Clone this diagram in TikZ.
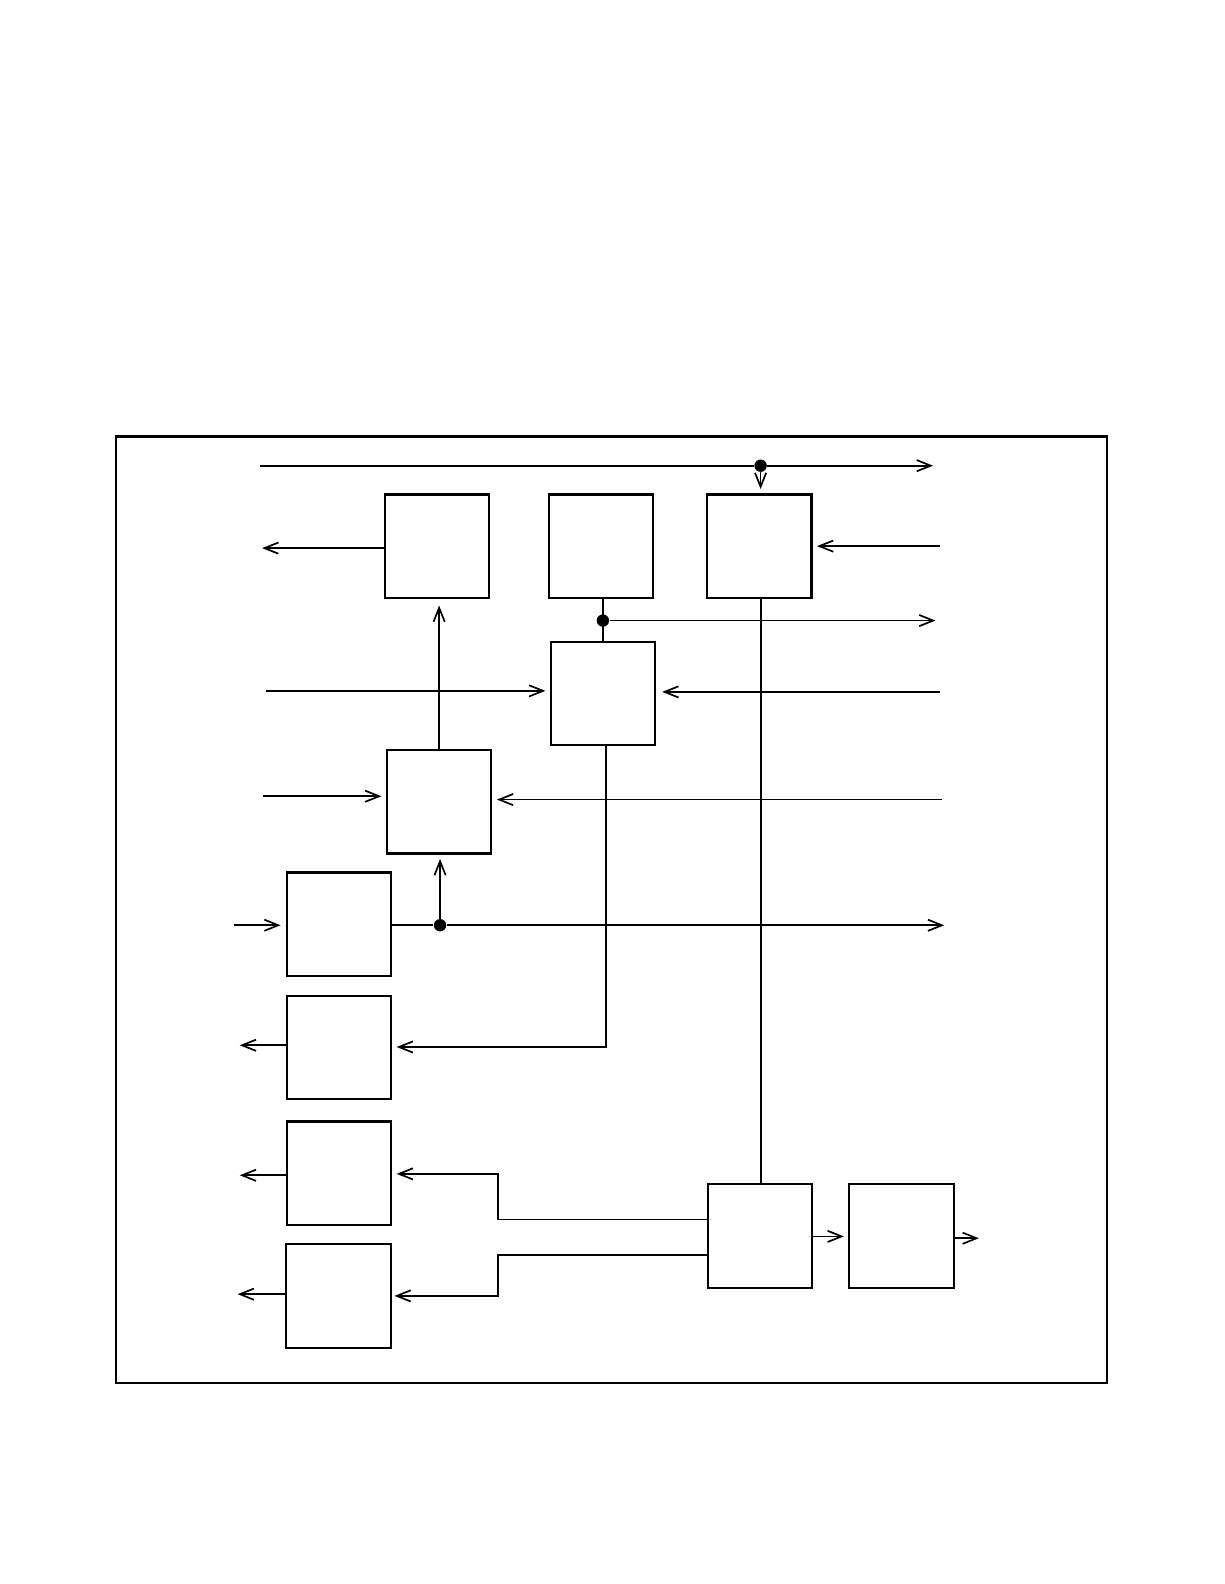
\documentclass[tikz,border=0pt]{standalone}
\usetikzlibrary{arrows.meta}
\begin{document}
\begin{tikzpicture}[x=0.50495pt, y=-0.50495pt,
  box/.style={draw, line width=1.1pt, minimum width=52.2pt, minimum height=51.8pt, inner sep=0pt},
  wire/.style={line width=0.85pt},
  arr/.style={wire, -{Straight Barb[length=7pt, width=5.6pt]}},
  shortgap/.style={shorten >=2.2pt},
  junct/.style={circle, fill, inner sep=0pt, minimum size=6.2pt}]
\useasboundingbox (0,0) rectangle (1212,1568);
\draw[line width=1.2pt] (115,432) rectangle (1095.6,1369);

% boxes
\node[box] (A) at (432.75,540.85) {};
\node[box] (B) at (595,540.85) {};
\node[box] (C) at (751.6,540.85) {};
\node[box] (D) at (597,686.5) {};
\node[box] (E) at (434.7,793.5) {};
\node[box] (F) at (335.5,915) {};
\node[box] (G) at (335.5,1036.9) {};
\node[box] (H) at (335.5,1161.5) {};
\node[box, line width=0.9pt] (I) at (335.1,1282.7) {};
\node[box, line width=0.9pt] (J) at (752.2,1223.4) {};
\node[box, line width=0.9pt] (K) at (892.3,1223.5) {};

% top bus
\coordinate (t0) at (257.8,461);
\coordinate (t1) at (923.6,461);
\node[junct] (j1) at (752.9,461) {};
\draw[wire] (t0) -- (j1);
\draw[arr] (j1) -- (t1);
\draw[arr, shortgap] (j1) -- (j1 |- C.north);

% A left output
\coordinate (aL) at (259.5,542.6);
\draw[arr] (A.west |- aL) -- (aL);

% C right input
\coordinate (cR) at (930.6,540.6);
\draw[arr, shortgap] (cR) -- (C.east |- cR);

% B - D with junction
\node[junct] (j2) at (596.8,614.3) {};
\coordinate (bR) at (926,614.3);
\draw[wire] (j2 |- B.south) -- (j2 |- D.north);
\draw[arr] (j2) -- (bR);

% D inputs
\coordinate (dL) at (263.7,683.9);
\draw[arr, shortgap] (dL) -- (D.west |- dL);
\coordinate (dR) at (930.6,684.9);
\draw[arr, shorten >=2.9pt] (dR) -- (D.east |- dR);

% E to A
\draw[arr, shorten >=3.1pt] (E.north) -- (E.north |- A.south);

% E inputs
\coordinate (eL) at (260.5,788.2);
\draw[arr, shortgap] (eL) -- (E.west |- eL);
\coordinate (eR) at (932.2,791.5);
\draw[arr, shortgap] (eR) -- (E.east |- eR);

% F
\coordinate (fL) at (232,915.9);
\draw[arr, shorten >=2.5pt] (fL) -- (F.west |- fL);
\coordinate (fR) at (934.7,915.9);
\node[junct] (j3) at (435.6,915.9) {};
\draw[wire] (F.east |- j3) -- (j3);
\draw[arr] (j3) -- (fR);
\draw[arr, shortgap] (j3) -- (j3 |- E.south);

% G
\coordinate (gL) at (237.3,1034.7);
\draw[arr] (G.west |- gL) -- (gL);
\coordinate (gC) at (599.8,1036.4);
\draw[arr, shortgap] (gC |- D.south) -- (gC) -- (G.east |- gC);

% H
\coordinate (hL) at (237.3,1163.4);
\draw[arr] (H.west |- hL) -- (hL);
\coordinate (hC1) at (492.9,1207.3);
\coordinate (hC2) at (492.9,1162);
\draw[arr, shortgap] (J.west |- hC1) -- (hC1) -- (hC2) -- (H.east |- hC2);

% I
\coordinate (iL) at (235.2,1281.1);
\draw[arr] (I.west |- iL) -- (iL);
\coordinate (iC1) at (492.9,1242);
\coordinate (iC2) at (492.9,1282.8);
\draw[arr, shorten >=1.4pt] (J.west |- iC1) -- (iC1) -- (iC2) -- (I.east |- iC2);

% C - J
\coordinate (cx) at (753.6,0);
\draw[wire] (cx |- C.south) -- (cx |- J.north);

% J - K and K output
\coordinate (jk) at (0,1223.9);
\draw[arr, shortgap] (J.east |- jk) -- (K.west |- jk);
\coordinate (kR) at (969,1225.7);
\draw[arr] (K.east |- kR) -- (kR);
\end{tikzpicture}
\end{document}
